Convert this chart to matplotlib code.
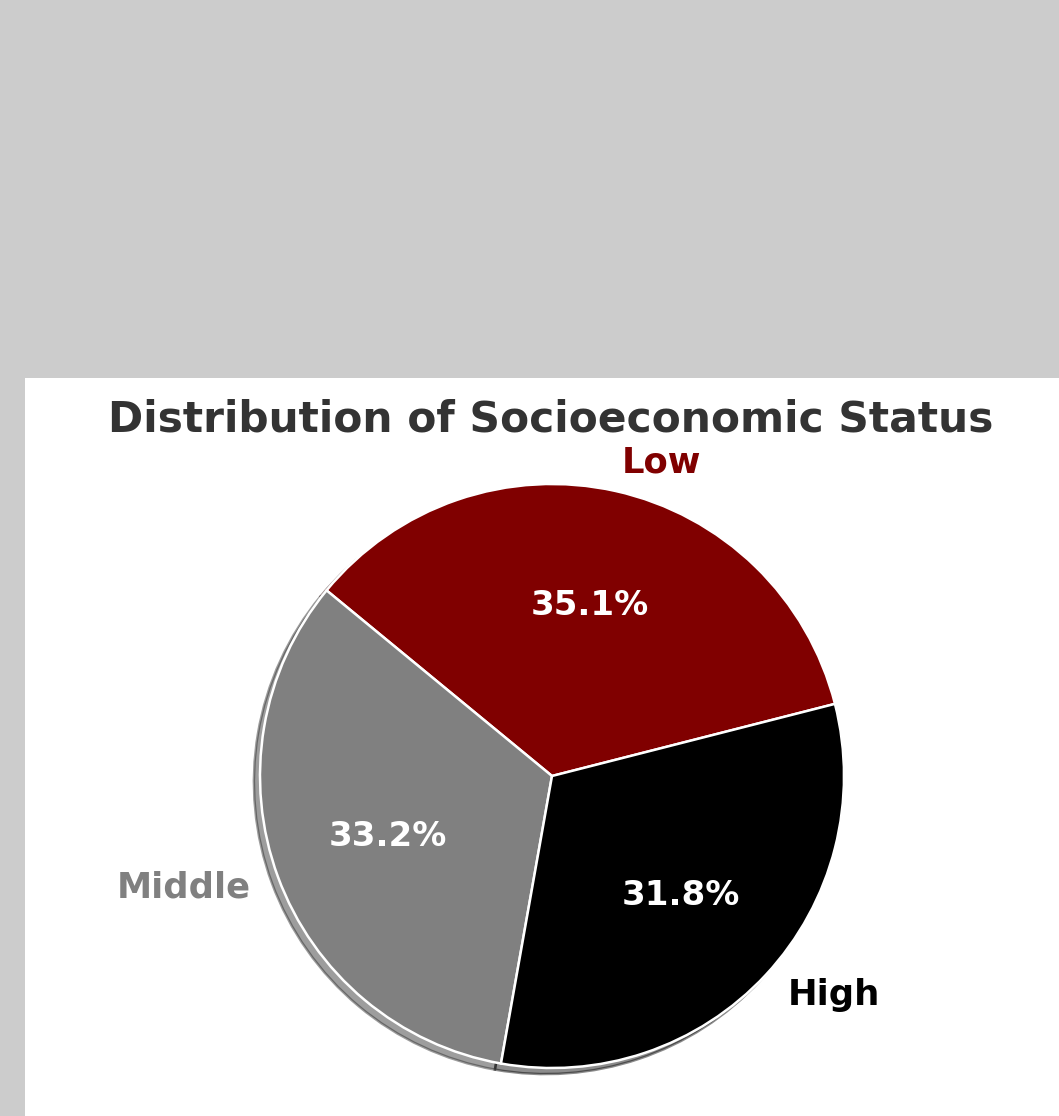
import matplotlib.pyplot as plt
from matplotlib.patches import Rectangle

status = ["Low", "Middle", "High"]
share = [35.1, 33.2, 31.8]
colors = ["#800000", "#808080", "#000000"]

fig = plt.figure(figsize=(10.59, 11.16), dpi=100, facecolor="#cccccc")

# white panel behind the chart
fig.patches.append(Rectangle((25 / 1059, 0), 1, (1116 - 378) / 1116,
                             transform=fig.transFigure, facecolor="white",
                             edgecolor="none", zorder=-1))

ax = fig.add_axes([187 / 1059, -25 / 1116, 730 / 1059, 730 / 1116])
wedges, texts, autotexts = ax.pie(
    share, labels=status, colors=colors, autopct="%1.1f%%",
    startangle=14.3, labeldistance=1.1,
    shadow=dict(ox=-0.015, oy=-0.015, alpha=0.45),
    wedgeprops=dict(edgecolor="white", linewidth=1.8),
    textprops=dict(fontsize=25.5, fontweight="bold"),
)
for t, c in zip(texts, colors):
    t.set_color(c)
for t in autotexts:
    t.set_color("white")
    t.set_fontsize(24.5)

ax.set_xlim(-1.25, 1.25)
ax.set_ylim(-1.25, 1.25)
ax.set_aspect("equal")

fig.text(551 / 1059, 1 - 432 / 1116, "Distribution of Socioeconomic Status",
         ha="center", va="baseline", fontsize=30.5, fontweight="bold",
         color="#333333")

fig.savefig("out.png", dpi=100, facecolor=fig.get_facecolor())
